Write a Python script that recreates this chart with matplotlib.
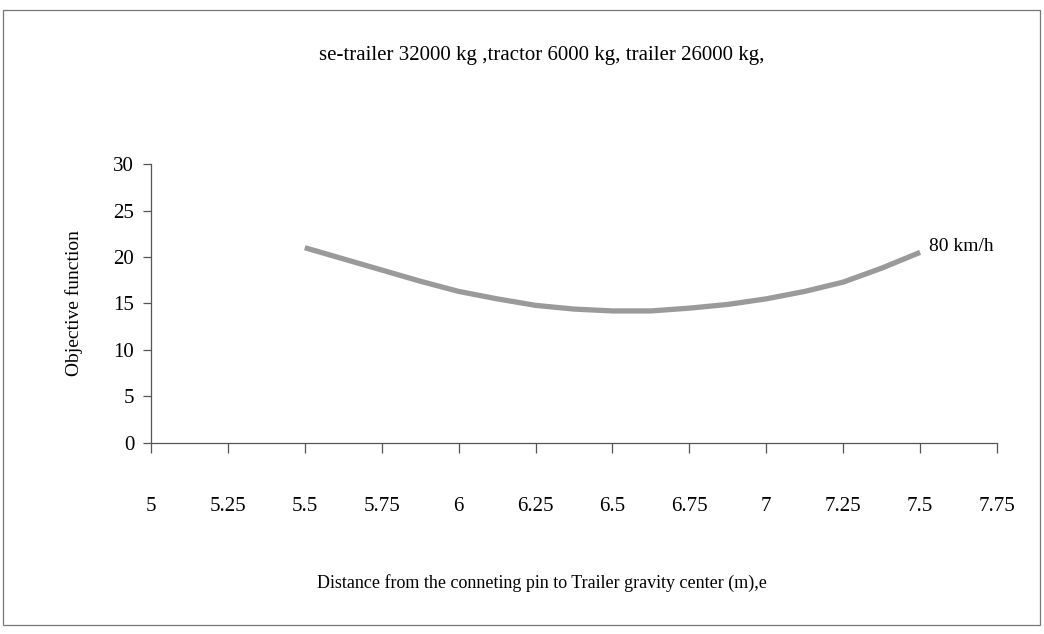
import matplotlib
matplotlib.use('Agg')
import matplotlib.pyplot as plt
from matplotlib.patches import Rectangle
import numpy as np

plt.rcParams['font.family'] = ['Liberation Serif', 'DejaVu Serif']

# data
dist = [5.5, 5.625, 5.75, 5.875, 6.0, 6.125, 6.25, 6.375, 6.5,
        6.625, 6.75, 6.875, 7.0, 7.125, 7.25, 7.375, 7.5]
obj_80 = [21.0, 19.8, 18.6, 17.4, 16.3, 15.5, 14.8, 14.4, 14.2,
          14.2, 14.5, 14.9, 15.5, 16.3, 17.3, 18.8, 20.5]
xticks = [5, 5.25, 5.5, 5.75, 6, 6.25, 6.5, 6.75, 7, 7.25, 7.5, 7.75]
yticks = [0, 5, 10, 15, 20, 25, 30]

fig = plt.figure(figsize=(10.44, 6.34), dpi=100)
ax = fig.add_axes([0.1446, 0.3013, 0.955 - 0.1446, 0.7413 - 0.3013])

ax.plot(dist, obj_80, color='#9a9a9a', lw=3.8, solid_capstyle='butt',
        solid_joinstyle='round')
ax.text(7.53, 20.2, '80 km/h', fontsize=14, ha='left', va='bottom')

ax.set_xlim(5, 7.75)
ax.set_ylim(0, 30)
ax.set_xticks(xticks)
ax.set_xticklabels([('%g' % t) for t in xticks])
ax.set_yticks(yticks)

for s in ['top', 'right']:
    ax.spines[s].set_visible(False)
for s in ['left', 'bottom']:
    ax.spines[s].set_color('#555555')
    ax.spines[s].set_linewidth(0.9)

ax.tick_params(axis='x', direction='out', length=7, width=0.9, color='#555555',
               pad=32, labelsize=15)
ax.tick_params(axis='y', direction='out', length=6, width=0.9, color='#555555',
               pad=6, labelsize=15)

ax.set_xlabel('Distance from the conneting pin to Trailer gravity center (m),e',
              fontsize=13)
ax.xaxis.set_label_coords(0.462, -0.47)
ax.set_ylabel('Objective function', fontsize=14, labelpad=22)

fig.text(0.519, 0.913, 'se-trailer 32000 kg ,tractor 6000 kg, trailer 26000 kg,',
         ha='center', va='center', fontsize=15)

# frame around the whole chart area
fig.patches.append(Rectangle((0.003, 0.014), 0.993, 0.970, transform=fig.transFigure,
                             fill=False, ec='#777777', lw=0.9))

fig.savefig('out.png', dpi=100)
